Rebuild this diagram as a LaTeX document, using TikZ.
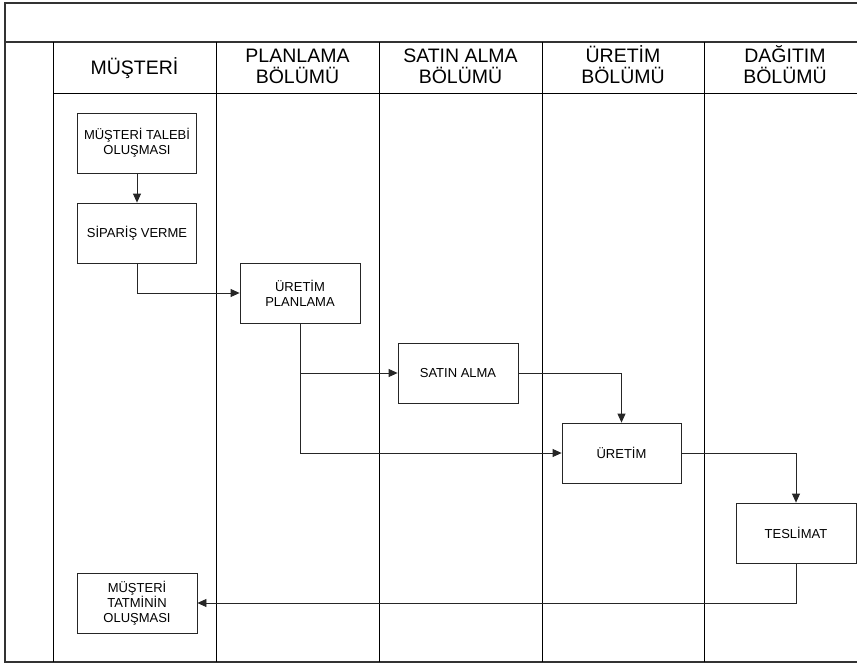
\documentclass[tikz,border=0pt]{standalone}
\usepackage{fontspec}
\setmainfont{Liberation Sans}
\usetikzlibrary{arrows.meta}

\tikzset{
  frameline/.style={draw=black!80, line width=1.3pt},
  laneline/.style={draw=black, line width=1pt},
  lanehead/.style={align=center, inner sep=0pt, anchor=base, font=\fontsize{19.5}{21}\selectfont},
  stepbox/.style={draw=black!85, line width=0.8pt, minimum width=119pt, minimum height=60pt,
                  inner sep=0pt, align=center, font=\fontsize{13}{15}\selectfont},
  flow/.style={draw=black!85, line width=0.8pt, -{Triangle[length=9pt,width=8pt]}}
}

\begin{document}
\begin{tikzpicture}[x=1pt, y=-1pt]
  \useasboundingbox (0,0) rectangle (857,664);

  % pool frame and title band
  \draw[frameline] (857,3) -- (5,3) -- (5,662) -- (857,662);
  \draw[frameline] (5,42) -- (857,42);

  % swimlanes
  \draw[laneline] (53,42) -- (53,662);
  \draw[laneline] (53,93) -- (857,93);
  \foreach \xx in {216,379,542,704} {
    \draw[laneline] (\xx,42) -- (\xx,662);
  }

  % lane headings (anchored on the last baseline)
  \node[lanehead] (h1) at (134.5,74.3) {MÜŞTERİ};
  \node[lanehead] (h2) at (297.5,83.7) {PLANLAMA\\BÖLÜMÜ};
  \node[lanehead] (h3) at (460.5,83.7) {SATIN ALMA\\BÖLÜMÜ};
  \node[lanehead] (h4) at (623,83.7) {ÜRETİM\\BÖLÜMÜ};
  \node[lanehead] (h5) at (785,83.7) {DAĞITIM\\BÖLÜMÜ};

  % process steps
  \node[stepbox] (talep)    at (137,143)   {MÜŞTERİ TALEBİ\\OLUŞMASI};
  \node[stepbox] (siparis)  at (137,233)   {SİPARİŞ VERME};
  \node[stepbox, minimum width=120pt] (planlama) at (300,293) {ÜRETİM\\PLANLAMA};
  \node[stepbox, minimum width=120pt] (satin)    at (458,373) {SATIN ALMA};
  \node[stepbox] (uretim)   at (621.5,453) {ÜRETİM};
  \node[stepbox, minimum width=120pt] (teslim)   at (796,533) {TESLİMAT};
  \node[stepbox, minimum width=120pt] (tatmin)   at (137,603) {MÜŞTERİ\\TATMİNİN\\OLUŞMASI};

  % flow
  \draw[flow] (talep.south) -- (siparis.north);
  \draw[flow] (siparis.south) |- (planlama.west);
  \draw[flow] (planlama.south) |- (satin.west);
  \draw[flow] (planlama.south) |- (uretim.west);
  \draw[flow] (satin.east) -| (uretim.north);
  \draw[flow] (uretim.east) -| (teslim.north);
  \draw[flow] (teslim.south) |- (tatmin.east);
\end{tikzpicture}
\end{document}
